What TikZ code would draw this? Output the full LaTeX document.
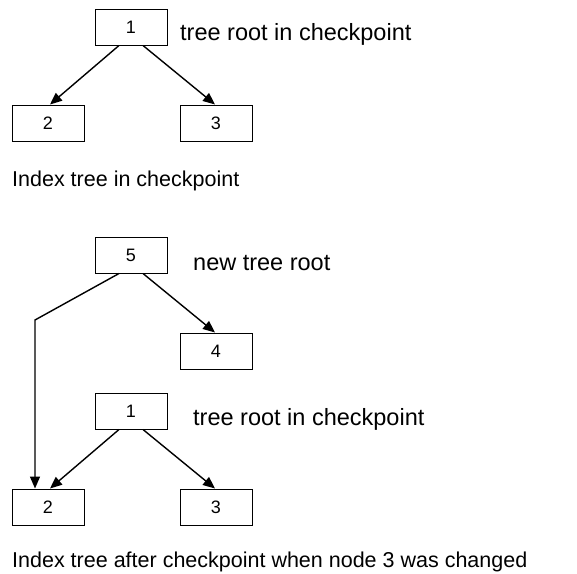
\documentclass[tikz,border=0pt]{standalone}
\usepackage{fontspec}
\setmainfont{Liberation Sans}
\usetikzlibrary{arrows.meta}
\begin{document}
\begin{tikzpicture}[x=1pt,y=-1pt,
  treebox/.style={draw,line width=1pt,minimum width=72pt,minimum height=36pt,
    inner sep=0pt,font=\fontsize{18}{20}\selectfont},
  note/.style={anchor=base west,inner sep=0pt,font=\fontsize{23.5}{28}\selectfont},
  caption/.style={anchor=base west,inner sep=0pt,font=\fontsize{21.5}{26}\selectfont},
  link/.style={line width=1.4pt,-{Triangle[length=12pt,width=10pt]}}]
\useasboundingbox (0,0) rectangle (577,573);

% checkpointed tree
\node[treebox] (a1) at (131,27) {1};
\node[treebox] (a2) at (48,123) {2};
\node[treebox] (a3) at (216,123) {3};
\node[note] (la1) at (180,40) {tree root in checkpoint};
\draw[link] ([xshift=-12pt]a1.south) -- ([xshift=2pt]a2.north);
\draw[link] ([xshift=12pt]a1.south) -- ([xshift=-1pt]a3.north);
\node[caption] (cap1) at (12,186) {Index tree in checkpoint};

% tree after the change of node 3
\node[treebox] (b5) at (131,255) {5};
\node[note] (lb5) at (193,270) {new tree root};
\node[treebox] (b4) at (216,351) {4};
\node[treebox] (b1) at (131,411) {1};
\node[note] (lb1) at (193,425) {tree root in checkpoint};
\node[treebox] (b2) at (48,507) {2};
\node[treebox] (b3) at (216,507) {3};
\coordinate (bend) at (35,320);
\draw[link] ([xshift=12pt]b5.south) -- ([xshift=-1pt]b4.north);
\draw[link] ([xshift=-12pt]b5.south) -- (bend) -- ([xshift=-13pt]b2.north);
\draw[link] ([xshift=-12pt]b1.south) -- ([xshift=2pt]b2.north);
\draw[link] ([xshift=12pt]b1.south) -- ([xshift=-1pt]b3.north);
\node[caption] (cap2) at (12,567) {Index tree after checkpoint when node 3 was changed};
\end{tikzpicture}
\end{document}
